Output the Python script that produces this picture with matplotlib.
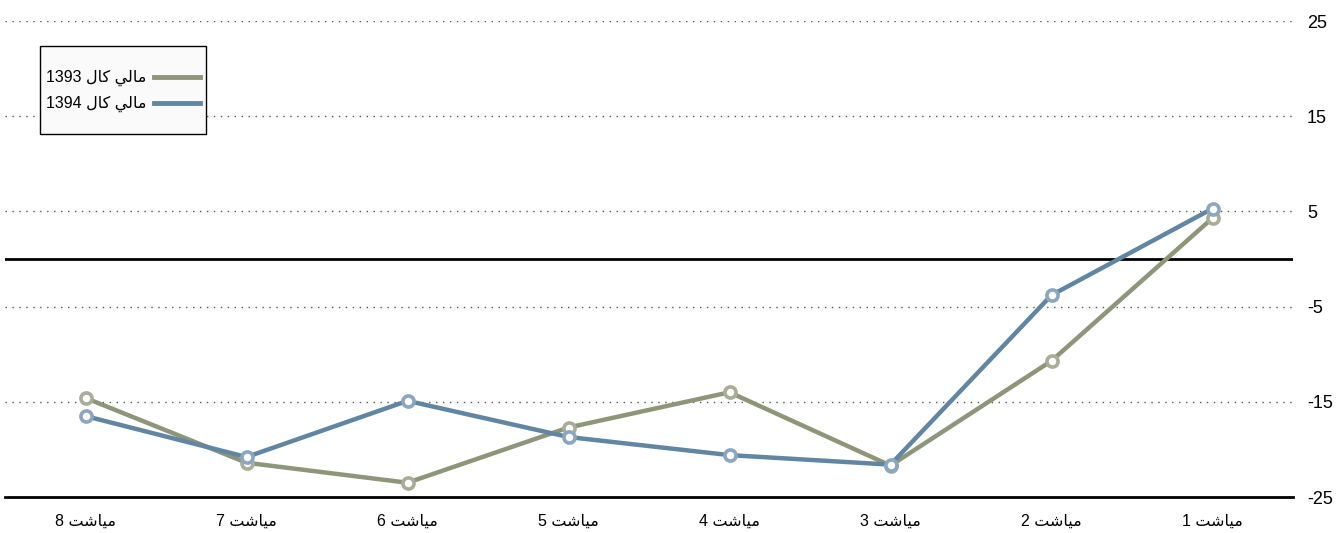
import matplotlib
matplotlib.use("Agg")
import matplotlib.pyplot as plt
from matplotlib.lines import Line2D
from matplotlib.patches import Rectangle

# مياشت (month), written with Arabic presentation forms in visual order
MONTH = "\uFE96\uFEB7\uFE8E\uFEF4\uFEE3"
# مالي كال (fiscal year)
FY = "\uFEDD\uFE8E\uFEDB" + " " + "\uFEF2\uFEDF\uFE8E\uFEE3"

months = [8, 7, 6, 5, 4, 3, 2, 1]
labels = ["%d %s" % (m, MONTH) for m in months]

fy1393 = [-14.6, -21.4, -23.5, -17.7, -14.0, -21.7, -10.7, 4.3]
fy1394 = [-16.5, -20.8, -14.9, -18.7, -20.6, -21.6, -3.8, 5.3]

series_names = ["1393 " + FY, "1394 " + FY]

green = "#8e9679"
green_edge = "#a8ad98"
blue = "#6186a3"
blue_edge = "#8ba7bf"

plt.rcParams['font.family'] = ['Liberation Sans', 'DejaVu Sans']

W, H = 1340, 533
fig = plt.figure(figsize=(W / 100, H / 100), dpi=100)
ax = fig.add_axes([5 / W, 36 / H, 1288 / W, 476 / H])

x = list(range(len(months)))

for yv in [-15, -5, 5, 15, 25]:
    ax.axhline(yv, color="#555555", lw=1, ls=(0, (1, 4)), zorder=1)
ax.axhline(0, color="black", lw=2, zorder=2)

ax.plot(x, fy1393, color=green, lw=3.2, zorder=3, solid_capstyle="round")
ax.plot(x, fy1394, color=blue, lw=3.2, zorder=4, solid_capstyle="round")
ax.plot(x, fy1393, ls="none", marker="o", ms=8, mfc="white", mec=green_edge, mew=2.6, zorder=5)
ax.plot(x, fy1394, ls="none", marker="o", ms=8, mfc="white", mec=blue_edge, mew=2.6, zorder=5)

ax.set_xlim(-0.5, 7.5)
ax.set_ylim(-25, 25)
ax.set_xticks(x)
ax.set_xticklabels(labels, fontsize=11.5)
ax.set_yticks([-25, -15, -5, 5, 15, 25])
ax.set_yticklabels(["-25", "-15", "-5", "5", "15", "25"], fontsize=13)
ax.yaxis.tick_right()
ax.tick_params(axis="both", length=0)
ax.tick_params(axis="y", pad=10)
ax.tick_params(axis="x", pad=12)

for s in ["top", "left", "right"]:
    ax.spines[s].set_visible(False)
ax.spines["bottom"].set_linewidth(2)
ax.spines["bottom"].set_color("black")

# legend box drawn separately so its margins can be set freely
fig.patches.append(Rectangle((40 / W, 1 - 134 / H), 166 / W, 88 / H, transform=fig.transFigure,
                             facecolor="#fafafa", edgecolor="black", lw=1, zorder=6))

handles = [Line2D([], [], color=green, lw=3.5), Line2D([], [], color=blue, lw=3.5)]
leg = fig.legend(handles, series_names, loc="upper left", bbox_to_anchor=(46 / W, 1 - 70 / H),
                 bbox_transform=fig.transFigure, markerfirst=False, fontsize=11.5, frameon=False,
                 handlelength=2.9, borderpad=0, labelspacing=0.6, handletextpad=0.45,
                 borderaxespad=0)
leg.set_zorder(7)

fig.savefig("out.png", dpi=100)
